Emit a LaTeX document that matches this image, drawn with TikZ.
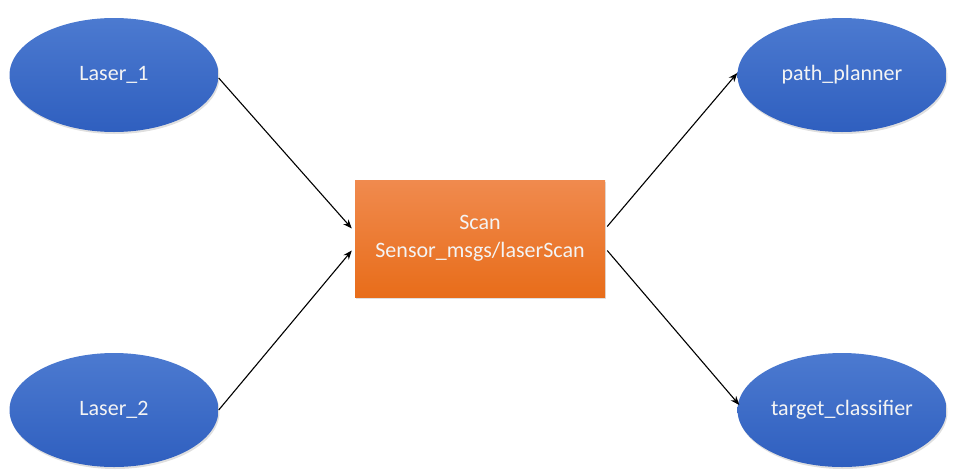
\documentclass[tikz,border=0pt]{standalone}
\usepackage{fontspec}
\setmainfont{Carlito}
\usetikzlibrary{shapes.geometric,shadows,arrows.meta}
\definecolor{blueTop}{HTML}{4C7AD0}
\definecolor{blueBot}{HTML}{2F5FBF}
\definecolor{orgTop}{HTML}{F08A4E}
\definecolor{orgBot}{HTML}{E86D1A}
\definecolor{txt}{HTML}{F4F4F4}
\begin{document}
\begin{tikzpicture}[x=1pt,y=-1pt,
  topic/.style={ellipse, minimum width=209pt, minimum height=114pt, inner sep=0pt,
    top color=blueTop, bottom color=blueBot, draw=none,
    drop shadow={opacity=0.25, shadow xshift=1pt, shadow yshift=-2pt},
    text=txt, font=\fontsize{22}{26}\selectfont},
  msgbox/.style={rectangle, minimum width=250pt, minimum height=117pt, inner sep=0pt,
    top color=orgTop, bottom color=orgBot, draw=none,
    drop shadow={opacity=0.25, shadow xshift=1pt, shadow yshift=-2pt},
    text=txt, align=center, font=\fontsize{22}{28}\selectfont},
  link/.style={-{Stealth[length=9pt,width=7pt]}, line width=1.1pt, black}]
\useasboundingbox (0,0) rectangle (956,472);
\node[topic] (l1) at (114,75) {Laser\_1};
\node[topic] (l2) at (114,410) {Laser\_2};
\node[topic] (pp) at (842,75) {path\_planner};
\node[topic] (tc) at (842,410) {target\_classifier};
\node[msgbox] (scan) at (480,238.5) {Scan\\Sensor\_msgs/laserScan};
% yshift is in canvas units: positive moves up
\draw[link] ([yshift=-3pt]l1.east) -- ([yshift=10pt,xshift=-3pt]scan.west);
\draw[link] (l2.east) -- ([yshift=-12pt,xshift=-3pt]scan.west);
\draw[link] ([yshift=12pt,xshift=2pt]scan.east) -- ([yshift=2pt]pp.west);
\draw[link] ([yshift=-12pt,xshift=2pt]scan.east) -- ([yshift=5pt,xshift=2pt]tc.west);
\end{tikzpicture}
\end{document}
